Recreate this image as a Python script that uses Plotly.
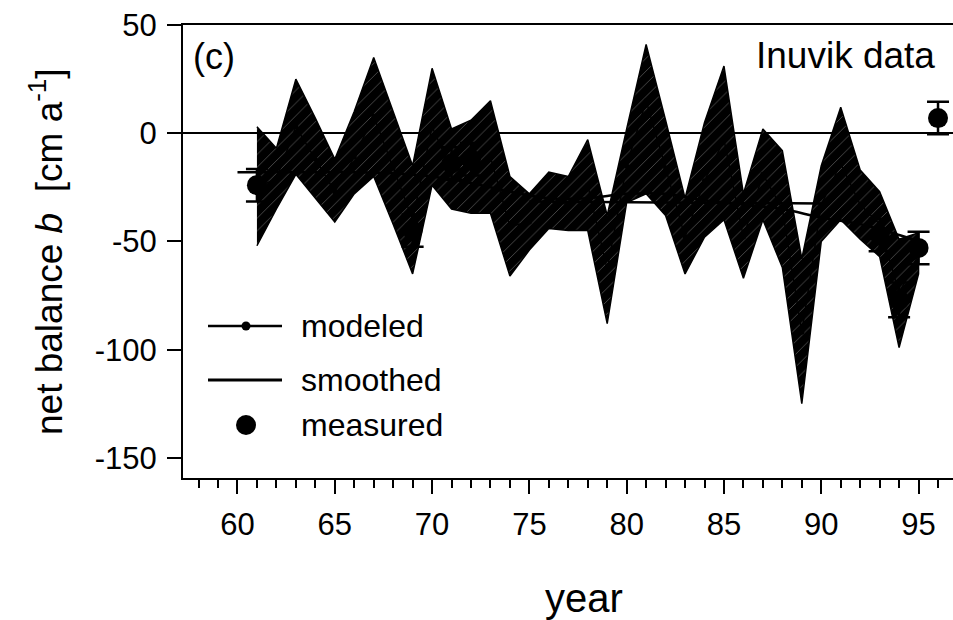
import plotly.graph_objects as go

# ---- data -------------------------------------------------------------
model_years = list(range(61, 96))
# envelope of the model runs (cm a^-1)
band_upper = [3, -7, 25, 7, -12, 10, 35, 10, -15, 30, 2, 6, 15, -20, -28, -18, -20, -3,
              -38, 2, 41, 6, -30, 5, 31, -28, 2, -8, -58, -15, 12, -17, -27, -49, -46]
band_lower = [-52, -35, -19, -30, -41, -28, -20, -42, -65, -24, -35, -37, -37, -66, -54, -44,
              -45, -45, -88, -32, -28, -38, -65, -48, -40, -67, -40, -62, -125, -50, -40,
              -49, -57, -99, -65]
# central modeled balance
modeled = [-25, -21, 3, -12, -27, -11, 8, -16, -40, 3, -17, -16, -11, -43, -41, -31, -33,
           -24, -63, -15, 15, -16, -48, -22, -3, -48, -19, -35, -92, -33, -14, -33, -42,
           -74, -56]

smooth_years = [60, 62, 64, 66, 68, 70, 72, 74, 76, 78, 80, 82, 84, 86, 88, 90, 92, 94, 95]
smoothed = [-18, -18, -18, -18, -18.5, -20, -23, -27, -30, -30, -28, -28, -31, -33, -35,
            -39, -42, -47, -50]

mean_years = [75, 90]
mean_level = [-31.5, -32.5]

meas_years = [61, 69, 71, 72, 93, 94, 95, 96]
measured = [-24, -45, -14, -12, -47, -77, -53, 7]
meas_err = [7.5, 7.5, 7.5, 7.5, 7.5, 8, 7.5, 7.5]

x_ticks = [60, 65, 70, 75, 80, 85, 90, 95]
y_ticks = [50, 0, -50, -100, -150]
y_tick_text = ["50", "0", "-50", "-100", "-150"]

FONT = "Liberation Sans, Arial, sans-serif"

# ---- figure -----------------------------------------------------------
fig = go.Figure()

# shaded envelope of model runs
fig.add_trace(go.Scatter(
    x=model_years + model_years[::-1],
    y=band_upper + band_lower[::-1],
    mode="lines", fill="toself",
    line=dict(color="black", width=1.5),
    fillcolor="black",
    fillpattern=dict(shape="/", fgcolor="white", bgcolor="black",
                     size=9, solidity=0.06, fillmode="overlay"),
    hoverinfo="skip", showlegend=False))

# modeled series
fig.add_trace(go.Scatter(
    x=model_years, y=modeled, mode="lines+markers",
    line=dict(color="black", width=1.5),
    marker=dict(color="black", size=5),
    showlegend=False))

# smoothed curve and period mean
fig.add_trace(go.Scatter(
    x=smooth_years, y=smoothed, mode="lines",
    line=dict(color="black", width=2.5, shape="spline"),
    showlegend=False))
fig.add_trace(go.Scatter(
    x=mean_years, y=mean_level, mode="lines",
    line=dict(color="black", width=2.5),
    showlegend=False))

# measured balances
fig.add_trace(go.Scatter(
    x=meas_years, y=measured, mode="markers",
    marker=dict(color="black", size=20),
    error_y=dict(type="data", array=meas_err, color="black",
                 thickness=2.5, width=11),
    showlegend=False))

# plot area in pixels: x 183..953, y 25..478
L, R, T, B = 183, 953, 25, 478
W, H = R - L, B - T


def px(xp):
    return (xp - L) / W


def py(yp):
    return (B - yp) / H


shapes = []
annotations = []

# hand-built legend
legend_rows = [("modeled", 326), ("smoothed", 380), ("measured", 425)]
for name, yrow in legend_rows:
    if name in ("modeled", "smoothed"):
        shapes.append(dict(type="line", xref="paper", yref="paper",
                           x0=px(208), x1=px(282), y0=py(yrow), y1=py(yrow),
                           line=dict(color="black", width=3 if name == "smoothed" else 2.5)))
    if name == "modeled":
        r = 4.5
        shapes.append(dict(type="circle", xref="paper", yref="paper",
                           x0=px(246 - r), x1=px(246 + r), y0=py(yrow + r), y1=py(yrow - r),
                           fillcolor="black", line=dict(color="black", width=0)))
    if name == "measured":
        r = 10
        shapes.append(dict(type="circle", xref="paper", yref="paper",
                           x0=px(246 - r), x1=px(246 + r), y0=py(yrow + r), y1=py(yrow - r),
                           fillcolor="black", line=dict(color="black", width=0)))
    annotations.append(dict(text=name, xref="paper", yref="paper",
                            x=px(299), y=py(yrow), xanchor="left", yanchor="middle",
                            showarrow=False, font=dict(family=FONT, size=32, color="black")))

annotations += [
    dict(text="(c)", xref="paper", yref="paper", x=px(191), y=py(56),
         xanchor="left", yanchor="middle", showarrow=False,
         font=dict(family=FONT, size=36, color="black")),
    dict(text="Inuvik data", xref="paper", yref="paper", x=px(937), y=py(55),
         xanchor="right", yanchor="middle", showarrow=False,
         font=dict(family=FONT, size=37, color="black")),
    dict(text="net balance <i>b</i>  [cm a<sup>-1</sup>]", xref="paper", yref="paper",
         x=px(46), y=py(252), xanchor="center", yanchor="middle", textangle=-90,
         showarrow=False, font=dict(family=FONT, size=37, color="black")),
    dict(text="year", xref="paper", yref="paper", x=px(584), y=py(598),
         xanchor="center", yanchor="middle", showarrow=False,
         font=dict(family=FONT, size=40, color="black")),
]

fig.update_layout(
    width=953, height=620,
    margin=dict(l=L, r=0, t=T, b=620 - B, pad=0),
    paper_bgcolor="white", plot_bgcolor="white",
    font=dict(family=FONT, size=31, color="black"),
    showlegend=False,
    shapes=shapes, annotations=annotations,
    xaxis=dict(range=[57.2, 96.77], tickvals=x_ticks, ticks="outside", ticklen=14,
               tickwidth=2, tickcolor="black",
               minor=dict(dtick=1, tick0=0, ticks="outside", ticklen=8, tickwidth=1.5,
                          tickcolor="black"),
               showline=True, linecolor="black", linewidth=2, mirror=True,
               showgrid=False, zeroline=False, ticklabelstandoff=4,
               tickfont=dict(family=FONT, size=31)),
    yaxis=dict(range=[-159.3, 50], tickvals=y_ticks, ticktext=y_tick_text,
               ticks="outside", ticklen=14, tickwidth=2, tickcolor="black",
               showline=True, linecolor="black", linewidth=2,
               showgrid=False, zeroline=True, zerolinecolor="black", zerolinewidth=2,
               ticklabelstandoff=4,
               tickfont=dict(family=FONT, size=31)),
)

fig.write_html("out.html")
